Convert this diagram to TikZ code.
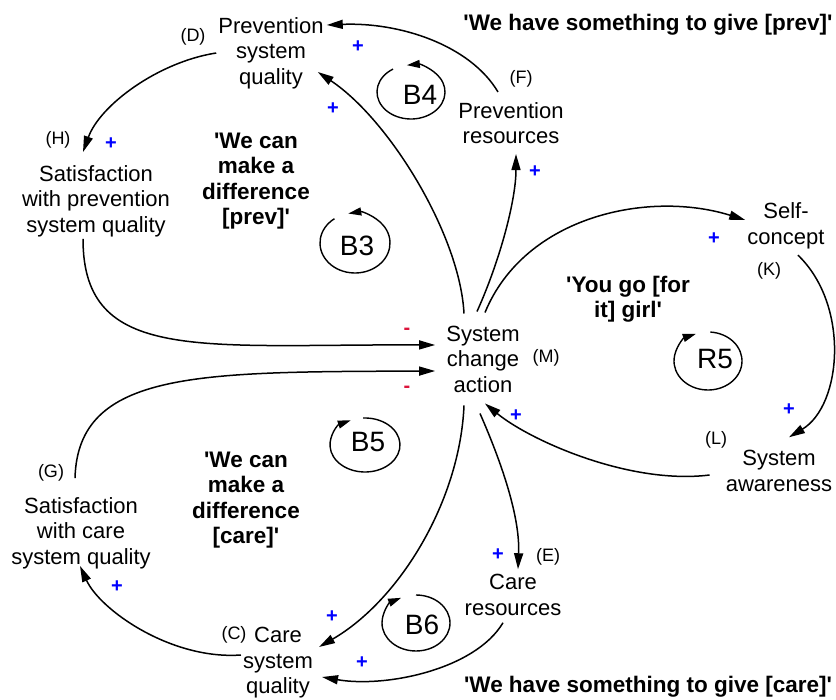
\documentclass[tikz,border=0pt]{standalone}
\usepackage{fontspec}
\setmainfont{Liberation Sans}[Ligatures=TeXOff]
\usetikzlibrary{arrows.meta}
\definecolor{signred}{RGB}{220,20,60}

\begin{document}
\begin{tikzpicture}[x=1pt, y=1pt, >={Triangle[length=16pt,width=9pt]},
    var/.style={align=center, inner sep=2pt, font=\fontsize{22}{25.5}\selectfont},
    tag/.style={inner sep=0pt, font=\fontsize{18}{20}\selectfont},
    signpos/.style={inner sep=0pt, text=blue, font=\fontsize{20}{22}\bfseries},
    signneg/.style={inner sep=0pt, text=signred, font=\fontsize{20}{22}\bfseries},
    lema/.style={align=center, inner sep=0pt, font=\fontsize{22.5}{25.5}\bfseries},
    lazo/.style={inner sep=0pt, font=\fontsize{28}{30}\selectfont},
    link/.style={->, line width=1.5pt},
    giro/.style={-{Triangle[length=13pt,width=8pt]}, line width=1.4pt}]
    \useasboundingbox (0,0) rectangle (836,-700);

    % Variables
    \node[var] (D) at (271,-53) {Prevention\\system\\quality};
    \node[var] (F) at (511,-123) {Prevention\\resources};
    \node[var] (H) at (96,-201) {Satisfaction\\with prevention\\system quality};
    \node[var] (M) at (483,-359) {System\\change\\action};
    \node[var] (K) at (786,-226) {Self-\\concept};
    \node[var] (L) at (779,-471) {System\\awareness};
    \node[var] (G) at (81,-533) {Satisfaction\\with care\\system quality};
    \node[var] (C) at (278,-663) {Care\\system\\quality};
    \node[var] (E) at (513,-595) {Care\\resources};

    % Letras
    \node[tag] (tD) at (193,-37) {(D)};
    \node[tag] (tF) at (521,-79) {(F)};
    \node[tag] (tH) at (58,-140) {(H)};
    \node[tag] (tM) at (546,-358) {(M)};
    \node[tag] (tK) at (769,-271) {(K)};
    \node[tag] (tL) at (716,-440) {(L)};
    \node[tag] (tG) at (51,-473) {(G)};
    \node[tag] (tC) at (234,-635) {(C)};
    \node[tag] (tE) at (548,-557) {(E)};

    % Nombres de los lazos
    \node[lema] (q1) at (648,-25) {'We have something to give [prev]'};
    \node[lema] (q2) at (256,-181) {'We can\\make a\\difference\\{[prev]'}};
    \node[lema] (q3) at (628,-299) {'You go [for\\it] girl'};
    \node[lema] (q4) at (246,-500) {'We can\\make a\\difference\\{[care]'}};
    \node[lema] (q5) at (648,-687) {'We have something to give [care]'};

    % Enlaces
    \draw[link] ([xshift=-13,yshift=8]F.north) .. controls +(-28,47) and +(73,3) .. ([xshift=1,yshift=28]D.east);
    \draw[link] ([xshift=-19,yshift=10]M.north) .. controls +(-4,78) and +(72,-48) .. ([xshift=-8,yshift=-19]D.east);
    \draw[link] (D.west) .. controls +(-58,-9) and +(17,47) .. ([xshift=-13,yshift=11]H.north);
    \draw[link] ([xshift=-13]H.south) .. controls +(0,-125) and +(-235,1) .. ([xshift=-9,yshift=14]M.west);
    \draw[link] ([xshift=-6,yshift=17]G.north) .. controls +(3,108) and +(-235,-1) .. ([xshift=-9,yshift=-12]M.west);
    \draw[link] ([xshift=-6,yshift=12]M.north) .. controls +(23,51) and +(0,-46) .. ([xshift=5,yshift=-8]F.south);
    \draw[link] ([xshift=2,yshift=11]M.north) .. controls +(40,97) and +(-96,30) .. ([yshift=6]K.west);
    \draw[link] ([xshift=12,yshift=-4]K.south) .. controls +(52,-50) and +(53,32) .. ([xshift=10,yshift=11]L.north);
    \draw[link] ([xshift=-14,yshift=-4]L.west) .. controls +(-80,-10) and +(45,-37) .. ([xshift=2,yshift=-9]M.south);
    \draw[link] ([xshift=-3,yshift=-19]M.south) .. controls +(25,-57) and +(2,49) .. ([xshift=5,yshift=3]E.north);
    \draw[link] ([xshift=-19,yshift=-11]M.south) .. controls +(-4,-95) and +(81,47) .. ([xshift=4,yshift=16]C.east);
    \draw[link] ([xshift=-10,yshift=-5]E.south) .. controls +(-28,-47) and +(63,-11) .. ([xshift=7,yshift=-14]C.east);
    \draw[link] ([yshift=8]C.west) .. controls +(-70,-5) and +(20,-44) .. ([xshift=-1,yshift=5]G.south);

    % Polaridades
    \node[signpos] (s1) at (358,-47) {+};
    \node[signpos] (s2) at (333,-109) {+};
    \node[signpos] (s3) at (111,-144) {+};
    \node[signpos] (s4) at (535,-172) {+};
    \node[signpos] (s5) at (714,-239) {+};
    \node[signpos] (s6) at (789,-410) {+};
    \node[signpos] (s7) at (516,-416) {+};
    \node[signpos] (s8) at (498,-555) {+};
    \node[signpos] (s9) at (332,-617) {+};
    \node[signpos] (s10) at (362,-663) {+};
    \node[signpos] (s11) at (117,-587) {+};
    \node[signneg] (s12) at (407,-331) {-};
    \node[signneg] (s13) at (407,-389) {-};

    % Lazos
    \node[lazo] (B4) at (420,-95) {B4};
    \draw[giro] ([shift={(-9,3)}]B4.center) ++(122:34 and 27) arc[start angle=122, end angle=457, x radius=34, y radius=27];
    \node[lazo] (B3) at (357,-246) {B3};
    \draw[giro] ([shift={(-2,3)}]B3.center) ++(126:35 and 30) arc[start angle=126, end angle=461, x radius=35, y radius=30];
    \node[lazo] (B5) at (368,-442) {B5};
    \draw[giro] ([shift={(-3,-3)}]B5.center) ++(93:35 and 27) arc[start angle=93, end angle=-246, x radius=35, y radius=27];
    \node[lazo] (B6) at (422,-625) {B6};
    \draw[giro] ([shift={(-6,2)}]B6.center) ++(90:34 and 28) arc[start angle=90, end angle=-244, x radius=34, y radius=28];
    \node[lazo] (R5) at (715,-359) {R5};
    \draw[giro] ([shift={(-7,-2)}]R5.center) ++(86:34 and 29) arc[start angle=86, end angle=-249, x radius=34, y radius=29];

\end{tikzpicture}
\end{document}
